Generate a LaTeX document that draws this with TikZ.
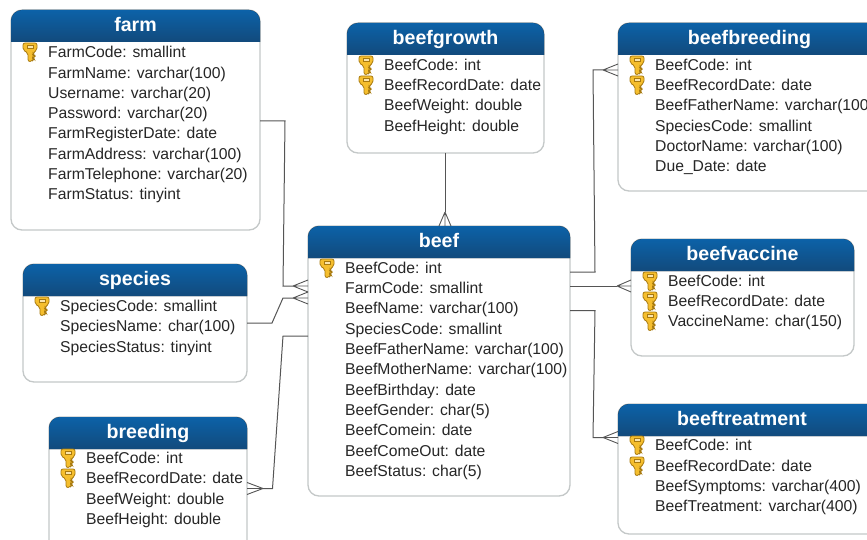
\documentclass[tikz,border=0pt]{standalone}
\usepackage{fontspec}
\setmainfont{Liberation Sans}
\usetikzlibrary{calc}
\definecolor{hdtop}{HTML}{0C62A8}
\definecolor{hdbot}{HTML}{124A7C}
\definecolor{edgec}{HTML}{C4C8C8}
\definecolor{linec}{HTML}{555555}
\definecolor{txtc}{HTML}{262626}
\definecolor{keyc}{HTML}{F5BE2E}
\definecolor{keye}{HTML}{A87A10}
\tikzset{
  x=1pt,y=-1pt,
  tablebox/.style={draw=edgec,line width=1.3pt,fill=white,rounded corners=11pt,inner sep=0pt,outer sep=0pt,anchor=north west},
  headbar/.style={top color=hdtop,bottom color=hdbot,draw=none},
  headtext/.style={text=white,font=\fontsize{19.6}{20}\selectfont\bfseries,inner sep=0pt,anchor=base},
  fieldtext/.style={text=txtc,font=\fontsize{15.7}{16}\selectfont,inner sep=0pt,anchor=base west},
  link/.style={draw=linec,line width=1pt},
  crowhead/.style={draw=linec,line width=0.9pt},
}
% name, x1, y1, x2, y2, title, title centre x
\newcommand{\tablebox}[7]{%
  \node[tablebox,minimum width=#4pt-#2pt,minimum height=#5pt-#3pt] (#1) at (#2,#3) {};
  \fill[headbar] (#2,#3+32) -- (#2,#3+11) arc[start angle=180,end angle=90,radius=11pt] -- (#4-11,#3) arc[start angle=90,end angle=0,radius=11pt] -- (#4,#3+32) -- cycle;
  \node[headtext] (#1-title) at (#7,#3+21.5) {#6};
}
% node name, x, y, text
\newcommand{\field}[4]{\node[fieldtext] (#1) at (#2,#3+5.5) {#4};}
% key icon centred at x,y
\newcommand{\keyicon}[2]{%
  \begin{scope}[shift={(#1,#2)}]
    \path[fill=keyc,draw=keye,line width=0.8pt,rounded corners=2pt]
      (-7,-9) -- (7,-9) -- (7,-2) -- (3,1) -- (3,3) -- (5,4) -- (3,6) -- (4,7) -- (2,9.5) -- (-2,9.5) -- (-2,1) -- (-7,-2) -- cycle;
    \path[fill=white!60!keyc,draw=keye,line width=0.5pt] (-3,-6.5) rectangle (3,-4);
  \end{scope}}
% crow's foot: apex coordinate, end coordinate, half width
\newcommand{\crowfoot}[3]{%
  \draw[crowhead] (#1) -- ($(#2)+(0,-#3)$) (#1) -- ($(#2)+(0,#3)$) (#1) -- (#2);}
\newcommand{\crowfootv}[3]{%
  \draw[crowhead] (#1) -- ($(#2)+(-#3,0)$) (#1) -- ($(#2)+(#3,0)$) (#1) -- (#2);}
\begin{document}
\begin{tikzpicture}
\useasboundingbox (0,0) rectangle (867,540);
\clip (0,0) rectangle (867,540);
\fill[white] (0,0) rectangle (867,540);

\tablebox{farm}{11}{10}{260}{230}{farm}{135.5}
\tablebox{beefgrowth}{347}{23}{544}{153}{beefgrowth}{445.5}
\tablebox{beefbreeding}{618}{23}{885}{191}{beefbreeding}{749.5}
\tablebox{beef}{308}{226}{570}{496}{beef}{439}
\tablebox{beefvaccine}{631}{239}{854}{356}{beefvaccine}{742.5}
\tablebox{species}{23}{264}{247}{382}{species}{135}
\tablebox{breeding}{49}{417}{247}{552}{breeding}{148}
\tablebox{beeftreatment}{618}{404}{885}{534}{beeftreatment}{742}

% farm
\keyicon{30}{52}
\field{f1}{48}{52}{FarmCode: smallint}
\field{f2}{48}{73}{FarmName: varchar(100)}
\field{f3}{48}{93}{Username: varchar(20)}
\field{f4}{48}{113}{Password: varchar(20)}
\field{f5}{48}{133}{FarmRegisterDate: date}
\field{f6}{48}{154}{FarmAddress: varchar(100)}
\field{f7}{48}{174}{FarmTelephone: varchar(20)}
\field{f8}{48}{194}{FarmStatus: tinyint}
% beefgrowth
\keyicon{366}{65}\keyicon{366}{85}
\field{g1}{384}{65}{BeefCode: int}
\field{g2}{384}{85}{BeefRecordDate: date}
\field{g3}{384}{105}{BeefWeight: double}
\field{g4}{384}{126}{BeefHeight: double}
% beefbreeding
\keyicon{637}{65}\keyicon{637}{85}
\field{b1}{655}{65}{BeefCode: int}
\field{b2}{655}{85}{BeefRecordDate: date}
\field{b3}{655}{105}{BeefFatherName: varchar(100)}
\field{b4}{655}{126}{SpeciesCode: smallint}
\field{b5}{655}{146}{DoctorName: varchar(100)}
\field{b6}{655}{166}{Due\_Date: date}
% beef
\keyicon{327}{268}
\field{e1}{345}{268}{BeefCode: int}
\field{e2}{345}{288}{FarmCode: smallint}
\field{e3}{345}{308}{BeefName: varchar(100)}
\field{e4}{345}{329}{SpeciesCode: smallint}
\field{e5}{345}{349}{BeefFatherName: varchar(100)}
\field{e6}{345}{369}{BeefMotherName: varchar(100)}
\field{e7}{345}{390}{BeefBirthday: date}
\field{e8}{345}{410}{BeefGender: char(5)}
\field{e9}{345}{430}{BeefComein: date}
\field{e10}{345}{451}{BeefComeOut: date}
\field{e11}{345}{471}{BeefStatus: char(5)}
% beefvaccine
\keyicon{650}{281}\keyicon{650}{301}\keyicon{650}{321}
\field{v1}{668}{281}{BeefCode: int}
\field{v2}{668}{301}{BeefRecordDate: date}
\field{v3}{668}{321}{VaccineName: char(150)}
% species
\keyicon{42}{306}
\field{s1}{60}{306}{SpeciesCode: smallint}
\field{s2}{60}{326}{SpeciesName: char(100)}
\field{s3}{60}{347}{SpeciesStatus: tinyint}
% breeding
\keyicon{68}{458}\keyicon{68}{478}
\field{r1}{86}{458}{BeefCode: int}
\field{r2}{86}{478}{BeefRecordDate: date}
\field{r3}{86}{499}{BeefWeight: double}
\field{r4}{86}{519}{BeefHeight: double}
% beeftreatment
\keyicon{637}{445}\keyicon{637}{466}
\field{t1}{655}{445}{BeefCode: int}
\field{t2}{655}{466}{BeefRecordDate: date}
\field{t3}{655}{486}{BeefSymptoms: varchar(400)}
\field{t4}{655}{506}{BeefTreatment: varchar(400)}

% connector ends
\coordinate (cFarm) at (beef.west |- 0,286);
\coordinate (cSpecies) at (beef.west |- 0,298);
\coordinate (cBreeding) at (breeding.east |- 0,488.5);
\coordinate (cGrowth) at (beef.north -| 445,0);
\coordinate (cBreed) at (beefbreeding.west |- 0,70);
\coordinate (cVacc) at (beefvaccine.west |- 0,286);
\coordinate (cTreat) at (beeftreatment.west |- 0,437.5);
\coordinate (aFarm) at (293,286);
\coordinate (aSpecies) at (293,298);
\coordinate (aBreeding) at (263,488.5);
\coordinate (aGrowth) at (445,212);
\coordinate (aBreed) at (603,70);
\coordinate (aVacc) at (617,286);
\coordinate (aTreat) at (603,437.5);

% connectors
\draw[link] (farm.east |- 0,121) -- (285,121) -- (283,286) -- (aFarm);
\draw[link] (species.east |- 0,323) -- (272,323) -- (283,298) -- (aSpecies);
\draw[link] (aBreeding) -- (272.5,488.5) -- (283,336) -- (beef.west |- 0,336);
\draw[link] (beefgrowth.south -| 445,0) -- (aGrowth);
\draw[link] (beef.east |- 0,272) -- (595,272) -- (593,70) -- (aBreed);
\draw[link] (beef.east |- 0,286) -- (aVacc);
\draw[link] (beef.east |- 0,310.5) -- (595,310.5) -- (593,437.5) -- (aTreat);
\crowfoot{aFarm}{cFarm}{6}
\crowfoot{aSpecies}{cSpecies}{6}
\crowfoot{aBreeding}{cBreeding}{6}
\crowfootv{aGrowth}{cGrowth}{6}
\crowfoot{aBreed}{cBreed}{6}
\crowfoot{aVacc}{cVacc}{6}
\crowfoot{aTreat}{cTreat}{6}
\end{tikzpicture}
\end{document}
